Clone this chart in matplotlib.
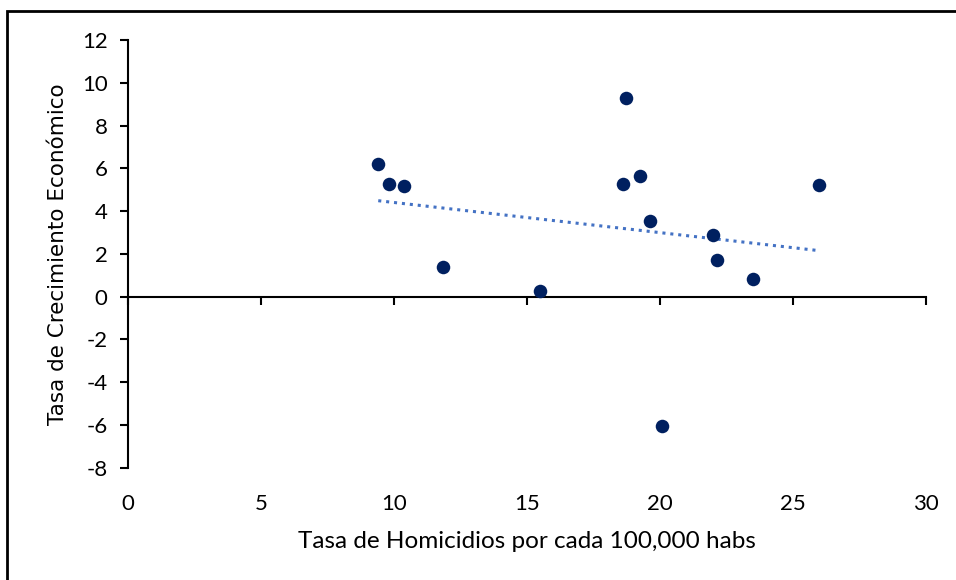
import matplotlib
matplotlib.use("Agg")
import matplotlib.pyplot as plt
from matplotlib.patches import Rectangle
import numpy as np

homicidios = [9.40, 9.79, 10.36, 11.83, 15.49, 18.59, 18.72, 19.23, 19.61, 20.06, 21.99, 22.13, 23.51, 25.97]
crecimiento = [6.19, 5.28, 5.18, 1.40, 0.28, 5.28, 9.28, 5.62, 3.55, -6.05, 2.87, 1.73, 0.82, 5.20]
x_ticks = [0, 5, 10, 15, 20, 25, 30]
y_ticks = [-8, -6, -4, -2, 0, 2, 4, 6, 8, 10, 12]
x_label = "Tasa de Homicidios por cada 100,000 habs"
y_label = "Tasa de Crecimiento Económico"

plt.rcParams['font.family'] = ['Lato', 'DejaVu Sans']

fig = plt.figure(figsize=(9.56, 5.8), dpi=100)
ax = fig.add_axes([0.1342, 0.1934, 0.9686 - 0.1342, 0.931 - 0.1934])

ax.scatter(homicidios, crecimiento, s=95, color='#002060', zorder=3, linewidths=0)

xs = np.array(homicidios)
ys = np.array(crecimiento)
m, b = np.polyfit(xs, ys, 1)
xl = np.array([xs.min(), xs.max()])
ax.plot(xl, m * xl + b, linestyle=(0, (1, 1.6)), color='#4472C4', linewidth=2.2, zorder=2)

ax.set_xlim(0, 30)
ax.set_ylim(-8, 12)
ax.set_xticks(x_ticks)
ax.set_yticks(y_ticks)
ax.set_yticklabels([str(v) for v in y_ticks])

ax.spines['top'].set_visible(False)
ax.spines['right'].set_visible(False)
ax.spines['bottom'].set_position(('data', 0))
for s in ['left', 'bottom']:
    ax.spines[s].set_linewidth(1.5)
    ax.spines[s].set_color('black')

ax.tick_params(axis='y', direction='out', length=6, width=1.5, labelsize=16, pad=9)
ax.tick_params(axis='x', direction='out', length=6, width=1.5, labelbottom=False)

sec = ax.secondary_xaxis(0)
sec.set_xticks(x_ticks)
sec.set_xticklabels([str(v) for v in x_ticks])
sec.spines['bottom'].set_visible(False)
sec.tick_params(axis='x', length=0, labelsize=16, pad=19)
sec.set_xlabel(x_label, fontsize=17.5, labelpad=12)

ax.set_ylabel(y_label, fontsize=15.5, family=['DejaVu Sans'], labelpad=10)

fig.patches.append(Rectangle((7 / 956, -0.05), 1.0, 1 - 11 / 580 + 0.05, transform=fig.transFigure,
                             fill=False, edgecolor='black', linewidth=2))

fig.savefig('out.png', dpi=100)
